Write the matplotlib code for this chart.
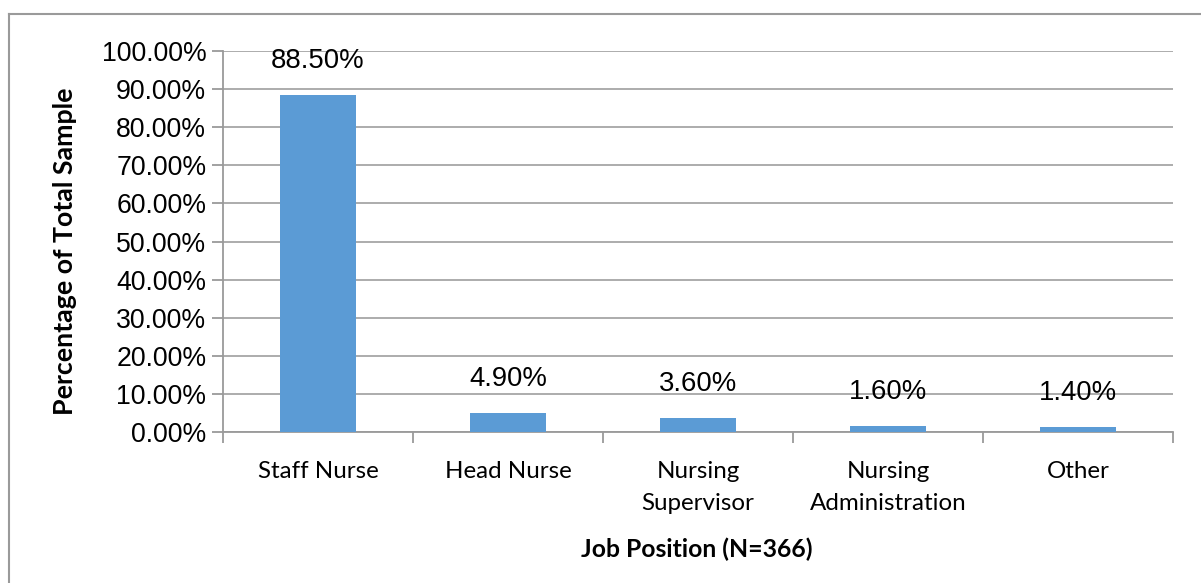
import matplotlib
matplotlib.use("Agg")
import matplotlib.pyplot as plt
from matplotlib.ticker import MultipleLocator, FuncFormatter
import numpy as np

categories = ["Staff Nurse", "Head Nurse", "Nursing\nSupervisor", "Nursing\nAdministration", "Other"]
values = [88.5, 4.9, 3.6, 1.6, 1.4]
value_labels = ["88.50%", "4.90%", "3.60%", "1.60%", "1.40%"]

W, H = 1201, 583
fig = plt.figure(figsize=(W / 100, H / 100), dpi=100)
fig.patch.set_facecolor("white")

# outer chart border (top and left visible)
border = "#9a9a9a"
fig.add_artist(plt.Line2D([9 / W, 1.0], [1 - 14 / H, 1 - 14 / H], color=border, lw=1.5, transform=fig.transFigure))
fig.add_artist(plt.Line2D([9 / W, 9 / W], [0, 1 - 14 / H], color=border, lw=1.5, transform=fig.transFigure))

left, right, top, bottom = 223, 1173, 51, 432
ax = fig.add_axes([left / W, 1 - bottom / H, (right - left) / W, (bottom - top) / H])

x = np.arange(len(categories))
ax.bar(x, values, width=0.4, color="#5B9BD5", zorder=3)
ax.set_xlim(-0.5, len(categories) - 0.5)
ax.set_ylim(0, 100)

ax.yaxis.set_major_locator(MultipleLocator(10))
ax.yaxis.set_major_formatter(FuncFormatter(lambda v, p: f"{v:.2f}%"))
ax.grid(axis="y", color="#a6a6a6", lw=1.3, zorder=0)

for s in ["top", "right"]:
    ax.spines[s].set_visible(False)
for s in ["left", "bottom"]:
    ax.spines[s].set_color("#9a9a9a")
    ax.spines[s].set_linewidth(1.3)

ax.set_xticks(x)
ax.set_xticklabels(categories, fontfamily="Lato", fontsize=17.4, linespacing=1.65)
ax.set_xticks(np.arange(len(categories) + 1) - 0.5, minor=True)
ax.tick_params(axis="x", which="major", length=0, pad=21)
ax.tick_params(axis="x", which="minor", length=8, width=1.3, color="#9a9a9a")
ax.tick_params(axis="y", length=8, width=1.3, color="#9a9a9a", labelsize=19.2, pad=4)
for lab in ax.get_yticklabels():
    lab.set_fontfamily("Liberation Sans")
for lab in ax.get_xticklabels():
    lab.set_verticalalignment("top")

for xi, v, t in zip(x, values, value_labels):
    ax.annotate(t, (xi, v), xytext=(0, 34), textcoords="offset pixels",
                ha="center", va="center", fontsize=19.8, fontfamily="Liberation Sans", zorder=4)

fig.text(65 / W, 1 - 251 / H, "Percentage of Total Sample", rotation=90, ha="center", va="center",
         fontsize=19.3, fontweight="bold", fontfamily="Lato")
fig.text(697 / W, 1 - 549 / H, "Job Position (N=366)", ha="center", va="center",
         fontsize=17.8, fontweight="bold", fontfamily="Lato")

fig.savefig("out.png", dpi=100)
